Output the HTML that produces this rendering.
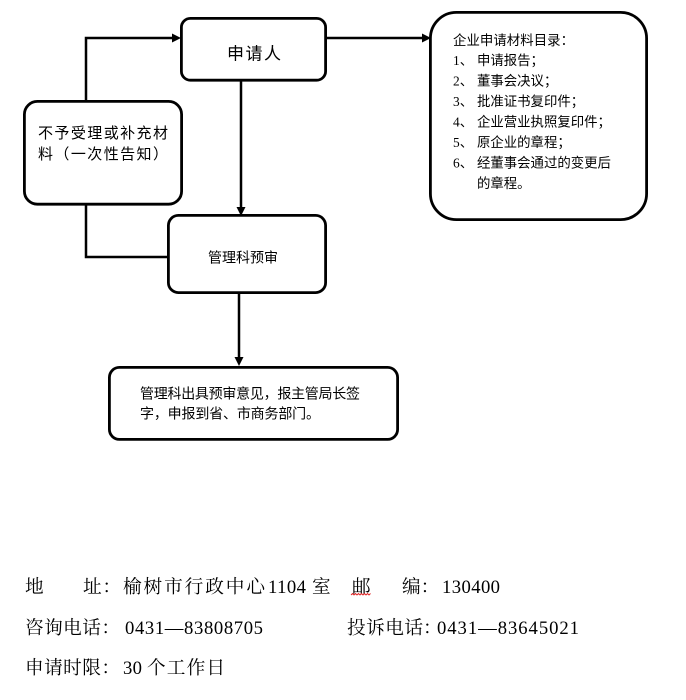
<!DOCTYPE html>
<html>
<head>
<meta charset="utf-8">
<style>
  html,body{margin:0;padding:0;background:#fff;}
  body{width:686px;height:700px;overflow:hidden;}
  svg{display:block;}
  .fc{font-family:"Liberation Sans","WenQuanYi Zen Hei","Noto Sans CJK SC",sans-serif;fill:#000;}
  .sr{font-family:"Liberation Serif","Noto Serif CJK SC",serif;fill:#000;}
</style>
</head>
<body>
<svg width="686" height="700" viewBox="0 0 686 700" xmlns="http://www.w3.org/2000/svg">
  <rect x="0" y="0" width="686" height="700" fill="#fff"/>

  <!-- connectors -->
  <g stroke="#000" stroke-width="2.5" fill="none" stroke-linecap="butt">
    <!-- left box top up to y=38 then right to 申请人 -->
    <polyline points="86,101 86,38 173,38"/>
    <!-- 申请人 right to right box -->
    <line x1="326" y1="38" x2="423" y2="38"/>
    <!-- 申请人 down to 管理科预审 -->
    <line x1="241" y1="80" x2="241" y2="208"/>
    <!-- left box bottom down then right to 管理科预审 -->
    <polyline points="86,204 86,257 168,257"/>
    <!-- 管理科预审 down to bottom box -->
    <line x1="239" y1="293" x2="239" y2="358"/>
  </g>
  <g fill="#000">
    <polygon points="172,33.5 181,38 172,42.5"/>
    <polygon points="422,33.5 431,38 422,42.5"/>
    <polygon points="236.5,207 245.5,207 241,216"/>
    <polygon points="234.5,357 243.5,357 239,366"/>
  </g>

  <!-- boxes -->
  <g stroke="#000" stroke-width="2.8" fill="#fff">
    <rect x="181.4" y="18.4" width="144.2" height="61.8" rx="9" ry="9"/>
    <rect x="24.4" y="101.4" width="157.2" height="102.8" rx="13" ry="13"/>
    <rect x="168.4" y="215.4" width="157.2" height="77.2" rx="10" ry="10"/>
    <rect x="109.4" y="367.4" width="288.2" height="72" rx="10" ry="10"/>
    <rect x="430.4" y="12.4" width="216.2" height="207.2" rx="26" ry="26"/>
  </g>

  <!-- flowchart text -->
  <text class="fc" x="227" y="59.5" font-size="17" textLength="54" lengthAdjust="spacing">申请人</text>

  <text class="fc" x="38" y="138" font-size="15" textLength="130" lengthAdjust="spacing">不予受理或补充材</text>
  <text class="fc" x="38" y="159" font-size="15" textLength="130" lengthAdjust="spacing">料（一次性告知）</text>

  <text class="fc" x="208" y="262.3" font-size="14" textLength="70" lengthAdjust="spacing">管理科预审</text>

  <text class="fc" x="140" y="398.3" font-size="14" textLength="220" lengthAdjust="spacing">管理科出具预审意见，报主管局长签</text>
  <text class="fc" x="140" y="418.3" font-size="14" textLength="180" lengthAdjust="spacing">字，申报到省、市商务部门。</text>

  <!-- right box text -->
  <text class="fc" x="453" y="45" font-size="13.4" textLength="121" lengthAdjust="spacing">企业申请材料目录：</text>
  <g font-size="13.4">
    <text class="sr" x="453" y="65">1<tspan class="fc">、</tspan></text>
    <text class="fc" x="477" y="65">申请报告；</text>
    <text class="sr" x="453" y="85.5">2<tspan class="fc">、</tspan></text>
    <text class="fc" x="477" y="85.5">董事会决议；</text>
    <text class="sr" x="453" y="106">3<tspan class="fc">、</tspan></text>
    <text class="fc" x="477" y="106">批准证书复印件；</text>
    <text class="sr" x="453" y="126.5">4<tspan class="fc">、</tspan></text>
    <text class="fc" x="477" y="126.5">企业营业执照复印件；</text>
    <text class="sr" x="453" y="147">5<tspan class="fc">、</tspan></text>
    <text class="fc" x="477" y="147">原企业的章程；</text>
    <text class="sr" x="453" y="167.5">6<tspan class="fc">、</tspan></text>
    <text class="fc" x="477" y="167.5">经董事会通过的变更后</text>
    <text class="fc" x="477" y="188">的章程。</text>
  </g>

  <!-- bottom info text -->
  <g class="sr" font-size="18.67">
    <!-- line 1 -->
    <text x="25" y="593">地</text>
    <text x="83" y="593" textLength="38" lengthAdjust="spacing">址：</text>
    <text x="123" y="593" textLength="142" lengthAdjust="spacing">榆树市行政中心</text>
    <text x="268" y="593" textLength="38" lengthAdjust="spacing">1104</text>
    <text x="312" y="593">室</text>
    <text x="352" y="593">邮</text>
    <text x="402" y="593">编：</text>
    <text x="442" y="593" textLength="58" lengthAdjust="spacing">130400</text>

    <!-- line 2 -->
    <text x="25" y="634" textLength="95" lengthAdjust="spacing">咨询电话：</text>
    <text x="125" y="634" textLength="138" lengthAdjust="spacing">0431—83808705</text>
    <text x="347" y="634" textLength="76" lengthAdjust="spacing">投诉电话</text>
    <text x="423" y="634">：</text>
    <text x="437" y="634" textLength="142" lengthAdjust="spacing">0431—83645021</text>

    <!-- line 3 -->
    <text x="25" y="674" textLength="95" lengthAdjust="spacing">申请时限：</text>
    <text x="123" y="674" textLength="19" lengthAdjust="spacing">30</text>
    <text x="147" y="674" textLength="78" lengthAdjust="spacing">个工作日</text>
  </g>
  <!-- red wavy underline under 邮 -->
  <polyline points="351,595 352.5,593.5 354,595 355.5,593.5 357,595 358.5,593.5 360,595 361.5,593.5 363,595 364.5,593.5 366,595 367.5,593.5 369,595 370.5,593.5" fill="none" stroke="#e02020" stroke-width="0.9"/>
</svg>
</body>
</html>
